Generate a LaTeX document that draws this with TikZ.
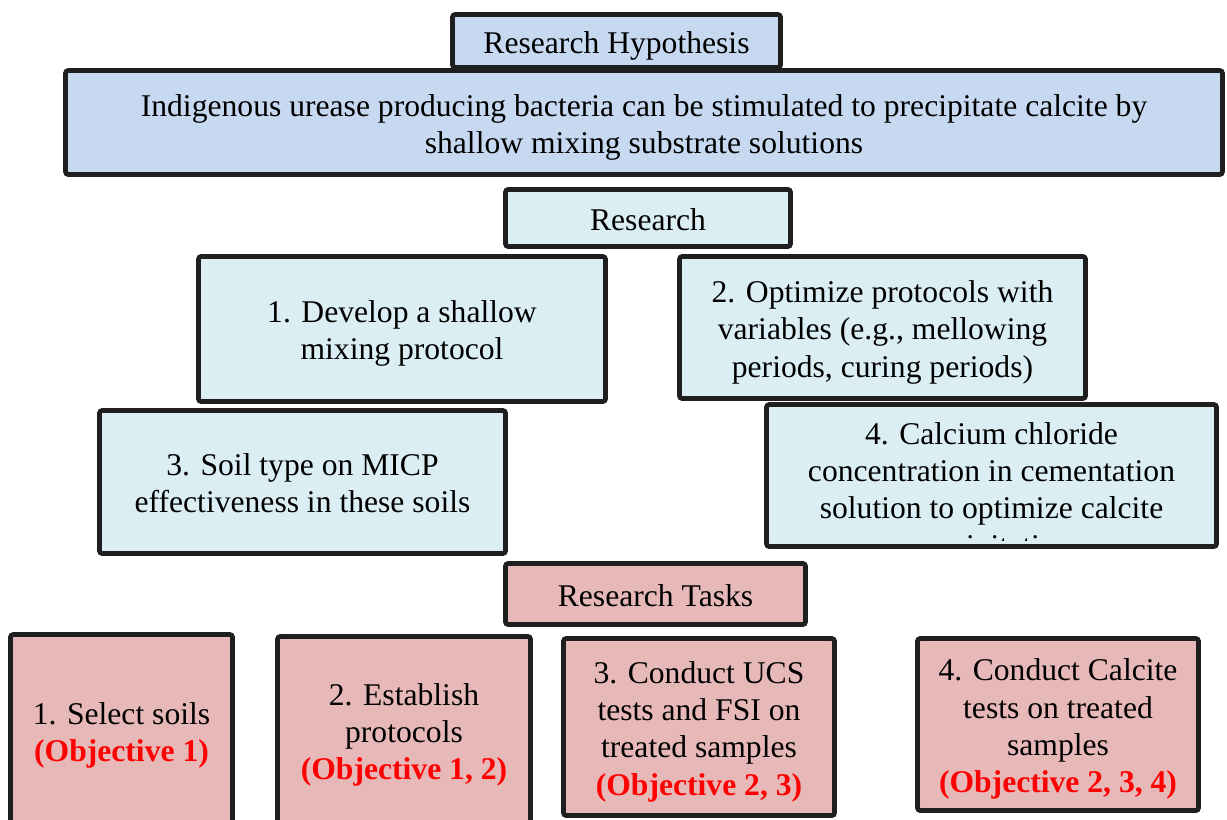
\documentclass[tikz,border=0pt]{standalone}
\usepackage{fontspec}
\setmainfont{Liberation Serif}
\newfontfamily\boxfont{Liberation Serif}
\usepackage{tikz}
\usetikzlibrary{positioning}
\definecolor{hypblau}{HTML}{C6D9F1}
\definecolor{resblau}{HTML}{DBEEF4}
\definecolor{taskrosa}{HTML}{E6B9B8}
\definecolor{objrot}{HTML}{FF0000}
\newcommand{\objtxt}[1]{{\color{objrot}\bfseries #1}}
\newcommand{\topst}{\rule{0pt}{19pt}}
\newcommand{\botst}{\rule[-5pt]{0pt}{5pt}}

\begin{document}
\begin{tikzpicture}[x=0.02cm, y=-0.02cm,
        box/.style={draw=black!88, line width=2.7pt, rounded corners=1.5pt,
                    align=center, inner sep=0pt,
                    font=\boxfont\fontsize{18}{21.2}\selectfont},
        hypbox/.style={box, fill=hypblau},
        resbox/.style={box, fill=resblau},
        taskbox/.style={box, fill=taskrosa}
      ]
      \clip (0,0) rectangle (1227,819);

      % hypothesis
      \node[hypbox, minimum width=6.56cm, minimum height=1.06cm] (hyp) at (616.5,41)
        {\topst Research Hypothesis\botst};
      \node[hypbox, minimum width=23.14cm, minimum height=2.08cm] (hyptext) at (644,122.5)
        {\topst Indigenous urease producing bacteria can be stimulated to precipitate calcite by\\
         shallow mixing substrate solutions\botst};

      % research objectives
      \node[resbox, minimum width=5.7cm, minimum height=1.14cm] (res) at (648,218) {\topst Research\botst};
      \node[resbox, minimum width=8.14cm, minimum height=2.9cm] (obj1) at (402,329)
        {\topst 1. Develop a shallow\\ mixing protocol\botst};
      \node[resbox, minimum width=8.12cm, minimum height=2.84cm] (obj2) at (882.5,327.5)
        {\topst 2. Optimize protocols with\\ variables (e.g., mellowing\\ periods, curing periods)\botst};
      \node[resbox, minimum width=8.12cm, minimum height=2.86cm] (obj3) at (302.5,482)
        {\topst 3. Soil type on MICP\\ effectiveness in these soils\botst};
      \node[resbox, minimum width=9.0cm, minimum height=2.84cm] (obj4) at (991.5,475.5) {};
      \begin{scope}
        \clip (obj4.north west) rectangle (obj4.east |- 0,540);
        \node[align=center, inner sep=0pt, font=\boxfont\fontsize{18}{21.2}\selectfont] (obj4text) at (991.5,488)
          {\topst 4. Calcium chloride\\ concentration in cementation\\ solution to optimize calcite\\ precipitation\botst};
      \end{scope}

      % research tasks
      \node[taskbox, minimum width=6.0cm, minimum height=1.22cm] (tasks) at (655.5,594) {\topst Research Tasks\botst};
      \node[taskbox, minimum width=4.44cm, minimum height=3.86cm] (task1) at (121.5,731)
        {\topst 1. Select soils\\ \objtxt{(Objective 1)}\botst};
      \node[taskbox, minimum width=5.06cm, minimum height=3.74cm] (task2) at (404,730)
        {\topst 2. Establish\\ protocols\\ \objtxt{(Objective 1, 2)}\botst};
      \node[taskbox, minimum width=5.42cm, minimum height=3.54cm] (task3) at (699,727)
        {\topst 3. Conduct UCS\\ tests and FSI on\\ treated samples\\ \objtxt{(Objective 2, 3)}\botst};
      \node[taskbox, minimum width=5.62cm, minimum height=3.44cm] (task4) at (1058,724.5)
        {\topst 4. Conduct Calcite\\ tests on treated\\ samples\\ \objtxt{(Objective 2, 3, 4)}\botst};
    \end{tikzpicture}
\end{document}
